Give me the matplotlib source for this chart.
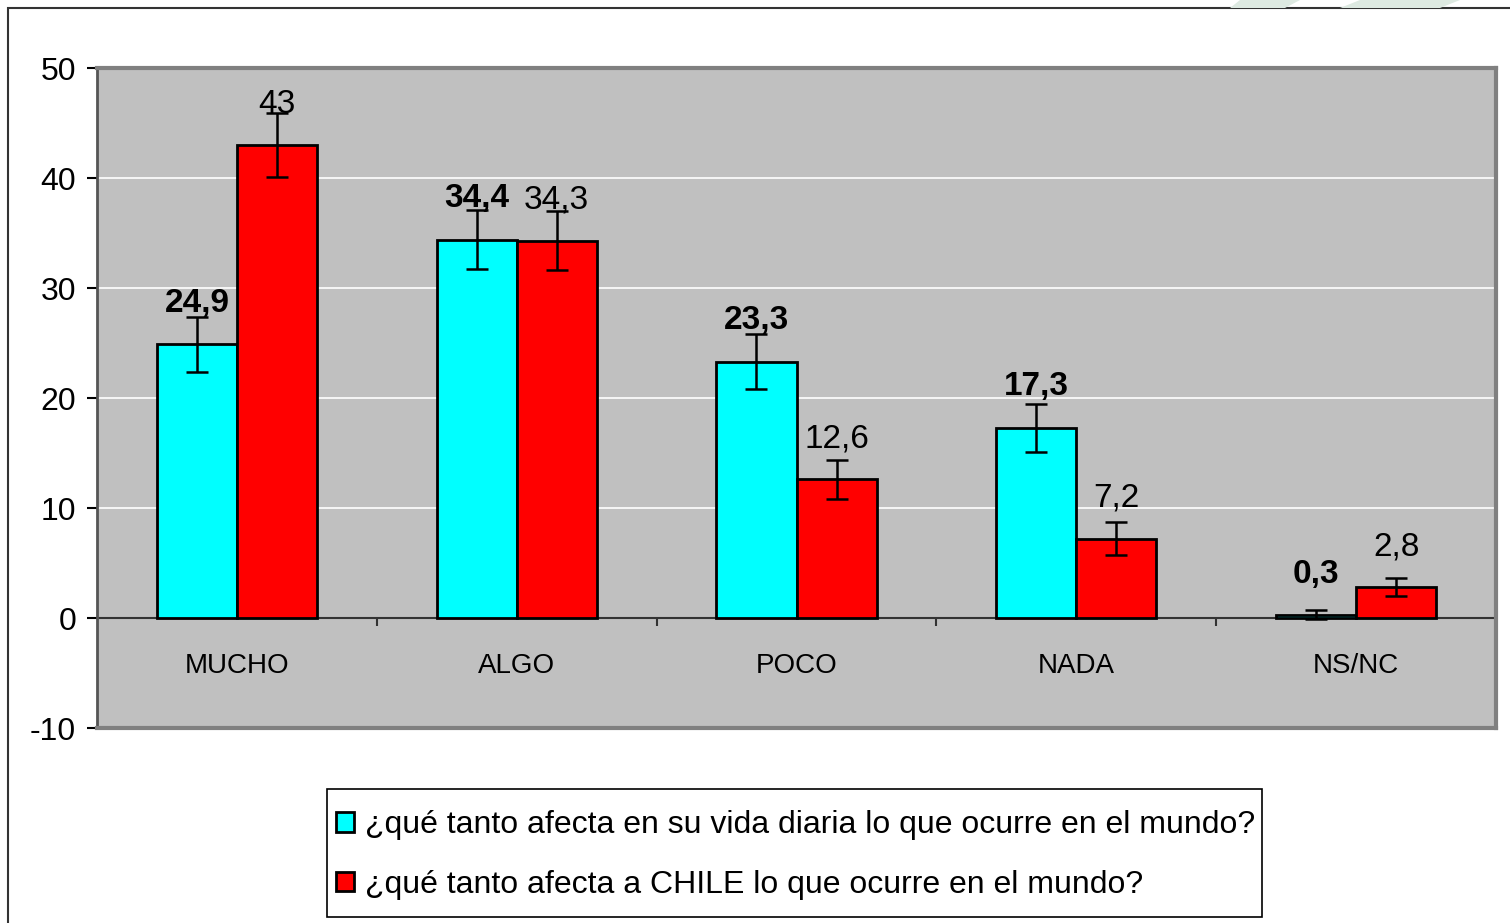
import matplotlib.pyplot as plt
from matplotlib.patches import Rectangle, Polygon
import numpy as np

plt.rcParams['font.family'] = ['Liberation Sans', 'DejaVu Sans']
plt.rcParams['axes.unicode_minus'] = False

# datos
categorias = ["MUCHO", "ALGO", "POCO", "NADA", "NS/NC"]
vida_diaria = [24.9, 34.4, 23.3, 17.3, 0.3]
chile = [43, 34.3, 12.6, 7.2, 2.8]
err_vida = [2.5, 2.7, 2.5, 2.2, 0.4]
err_chile = [2.9, 2.7, 1.8, 1.5, 0.8]
etiquetas_vida = ["24,9", "34,4", "23,3", "17,3", "0,3"]
etiquetas_chile = ["43", "34,3", "12,6", "7,2", "2,8"]
serie_vida = "¿qué tanto afecta en su vida diaria lo que ocurre en el mundo?"
serie_chile = "¿qué tanto afecta a CHILE lo que ocurre en el mundo?"

W, H = 1510, 923
fig = plt.figure(figsize=(W / 100, H / 100), dpi=100)

# marco exterior y decoracion
fig.patches.append(Rectangle((8 / W, -0.05), 1.2, 1 - 8 / H + 0.05,
                             transform=fig.transFigure, fill=False,
                             edgecolor="#333333", linewidth=1.5))
for pts in [[(1240, 0), (1300, 0), (1285, 8), (1230, 8)],
            [(1360, 0), (1460, 0), (1440, 8), (1340, 8)]]:
    fig.patches.append(Polygon([(x / W, 1 - y / H) for x, y in pts],
                               closed=True, transform=fig.transFigure,
                               facecolor="#dde9e1", edgecolor="none"))

ax = fig.add_axes([97 / W, 1 - 728 / H, 1399 / W, 660 / H])
ax.set_facecolor("#c0c0c0")

x = np.arange(len(categorias))
w = 0.286
ax.bar(x - w / 2, vida_diaria, w, color="#00ffff", edgecolor="black", linewidth=2, zorder=3)
ax.bar(x + w / 2, chile, w, color="#ff0000", edgecolor="black", linewidth=2, zorder=3)
ax.errorbar(x - w / 2, vida_diaria, yerr=err_vida, fmt="none", ecolor="black",
            elinewidth=1.8, capsize=8, capthick=1.8, zorder=4)
ax.errorbar(x + w / 2, chile, yerr=err_chile, fmt="none", ecolor="black",
            elinewidth=1.8, capsize=8, capthick=1.8, zorder=4)

for i in range(len(categorias)):
    ax.text(x[i] - w / 2, vida_diaria[i] + 3.7, etiquetas_vida[i], ha="center",
            va="center", fontsize=24, fontweight="bold", zorder=5)
    ax.text(x[i] + w / 2, chile[i] + 3.7, etiquetas_chile[i], ha="center",
            va="center", fontsize=24, zorder=5)
    ax.text(x[i], -4.4, categorias[i], ha="center", va="center", fontsize=20)

ax.set_xlim(-0.5, 4.5)
ax.set_ylim(-10, 50)
ax.set_yticks([-10, 0, 10, 20, 30, 40, 50])
for g in [10, 20, 30, 40]:
    ax.axhline(g, color="white", linewidth=1.2, zorder=1)
ax.axhline(0, color="#333333", linewidth=1.5, zorder=2)
ax.vlines(np.arange(0.5, 4.5, 1), -0.7, 0, color="#333333", linewidth=1.5, zorder=2)

ax.set_xticks([])
ax.tick_params(axis="y", labelsize=23, length=7, width=1.5, pad=8)
for s in ["top", "right", "bottom"]:
    ax.spines[s].set_color("#808080")
    ax.spines[s].set_linewidth(3)
ax.spines["left"].set_color("#555555")
ax.spines["left"].set_linewidth(2)

# leyenda
fig.patches.append(Rectangle((327 / W, 1 - 917 / H), 935 / W, 128 / H,
                             transform=fig.transFigure, facecolor="white",
                             edgecolor="black", linewidth=1.2, zorder=0))
h1 = Rectangle((0, 0), 1, 1, facecolor="#00ffff", edgecolor="black", linewidth=2)
h2 = Rectangle((0, 0), 1, 1, facecolor="#ff0000", edgecolor="black", linewidth=2)
fig.legend([h1, h2], [serie_vida, serie_chile], loc="center left",
           bbox_to_anchor=(336 / W, 1 - 855 / H), fontsize=23, frameon=False,
           handlelength=0.56, handleheight=0.56, handletextpad=0.34,
           labelspacing=0.92, borderpad=0, borderaxespad=0)

plt.savefig("out.png", dpi=100)
